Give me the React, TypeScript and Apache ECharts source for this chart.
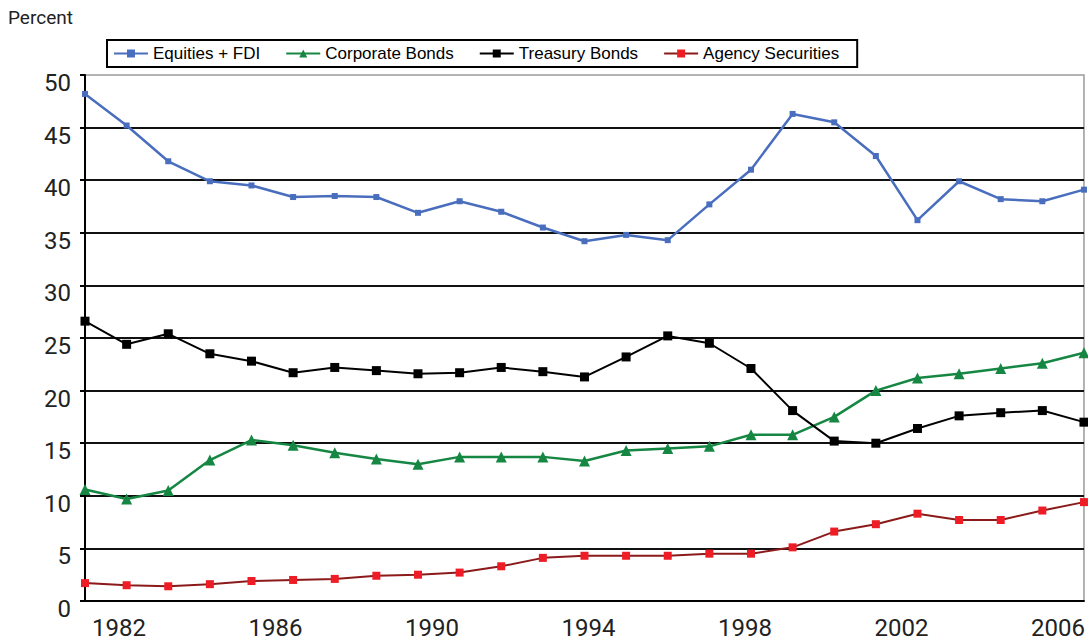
import React, { useEffect, useRef } from "react";
import * as echarts from "echarts";

const years = [
  "1982", "1983", "1984", "1985", "1986", "1987", "1988", "1989", "1990", "1991",
  "1992", "1993", "1994", "1995", "1996", "1997", "1998", "1999", "2000", "2001",
  "2002", "2003", "2004", "2005", "2006",
];
const yearTicks = [1982, 1986, 1990, 1994, 1998, 2002, 2006];

const equities = [48.2, 45.2, 41.8, 39.9, 39.5, 38.4, 38.5, 38.4, 36.9, 38.0, 37.0, 35.5, 34.2, 34.8, 34.3, 37.7, 41.0, 46.3, 45.5, 42.3, 36.2, 39.9, 38.2, 38.0, 39.1];
const corporate = [10.6, 9.7, 10.5, 13.4, 15.3, 14.8, 14.1, 13.5, 13.0, 13.7, 13.7, 13.7, 13.3, 14.3, 14.5, 14.7, 15.8, 15.8, 17.5, 20.0, 21.2, 21.6, 22.1, 22.6, 23.6];
const treasury = [26.6, 24.4, 25.4, 23.5, 22.8, 21.7, 22.2, 21.9, 21.6, 21.7, 22.2, 21.8, 21.3, 23.2, 25.2, 24.5, 22.1, 18.1, 15.2, 15.0, 16.4, 17.6, 17.9, 18.1, 17.0];
const agency = [1.7, 1.5, 1.4, 1.6, 1.9, 2.0, 2.1, 2.4, 2.5, 2.7, 3.3, 4.1, 4.3, 4.3, 4.3, 4.5, 4.5, 5.1, 6.6, 7.3, 8.3, 7.7, 7.7, 8.6, 9.4];

const AXISFONT = "Roboto, 'Liberation Sans', sans-serif";

export default function App() {
  const ref = useRef<HTMLDivElement>(null);
  useEffect(() => {
    if (!ref.current) return;
    const chart = echarts.init(ref.current, null, { renderer: "svg" });
    chart.setOption({
      animation: false,
      backgroundColor: "#fff",
      graphic: [
        {
          type: "text",
          left: 8,
          top: 8,
          style: { text: "Percent", font: `19px ${AXISFONT}`, fill: "#222" },
        },
      ],
      legend: {
        left: 107,
        top: 40,
        orient: "horizontal",
        borderColor: "#000",
        borderWidth: 2,
        padding: [5, 18, 5, 6],
        itemGap: 25,
        itemWidth: 34,
        itemHeight: 10,
        textStyle: { fontFamily: "'Liberation Sans', Arial, sans-serif", fontSize: 17, color: "#000" },
        data: ["Equities + FDI", "Corporate Bonds", "Treasury Bonds", "Agency Securities"],
      },
      grid: {
        left: 85,
        right: 2,
        top: 75,
        bottom: 40,
        show: true,
        borderColor: "#9a9a9a",
        borderWidth: 1.5,
        containLabel: false,
      },
      xAxis: [
        {
          type: "category",
          data: years,
          boundaryGap: false,
          axisLine: { show: true, lineStyle: { color: "#000", width: 2 } },
          axisTick: { show: false },
          axisLabel: { show: false },
          splitLine: { show: false },
        },
        {
          type: "value",
          position: "bottom",
          min: 1981.133,
          max: 2006.663,
          axisLine: { show: false },
          axisTick: { show: false },
          splitLine: { show: false },
          axisLabel: {
            customValues: yearTicks,
            fontFamily: AXISFONT,
            fontSize: 24,
            color: "#222",
            margin: 15,
            formatter: (v: number) => String(Math.round(v)),
          },
        },
      ],
      yAxis: {
        type: "value",
        min: 0,
        max: 50,
        interval: 5,
        axisLine: { show: true, lineStyle: { color: "#000", width: 2 } },
        axisTick: { show: true, length: 5, lineStyle: { color: "#000", width: 2 } },
        axisLabel: {
          fontFamily: AXISFONT,
          fontSize: 24,
          color: "#222",
          margin: 14,
          verticalAlign: "top",
          lineHeight: 16,
        },
        splitLine: { show: true, showMaxLine: false, lineStyle: { color: "#111", width: 2 } },
      },
      series: [
        {
          name: "Equities + FDI",
          type: "line",
          data: equities,
          symbol: "rect",
          symbolSize: 6,
          itemStyle: { color: "#4A6EBE" },
          lineStyle: { color: "#4A6EBE", width: 2.5 },
          z: 4,
        },
        {
          name: "Corporate Bonds",
          type: "line",
          data: corporate,
          symbol: "triangle",
          symbolSize: 11,
          itemStyle: { color: "#168743" },
          lineStyle: { color: "#168743", width: 2.5 },
          z: 3,
        },
        {
          name: "Treasury Bonds",
          type: "line",
          data: treasury,
          symbol: "rect",
          symbolSize: 9,
          itemStyle: { color: "#000" },
          lineStyle: { color: "#000", width: 2 },
          z: 3,
        },
        {
          name: "Agency Securities",
          type: "line",
          data: agency,
          symbol: "rect",
          symbolSize: 8,
          itemStyle: { color: "#EE1C25" },
          lineStyle: { color: "#8B1A1A", width: 2 },
          z: 3,
        },
      ],
    });
    return () => chart.dispose();
  }, []);
  return <div ref={ref} style={{ width: 1088, height: 641, position: "absolute", left: 0, top: 0 }} />;
}
